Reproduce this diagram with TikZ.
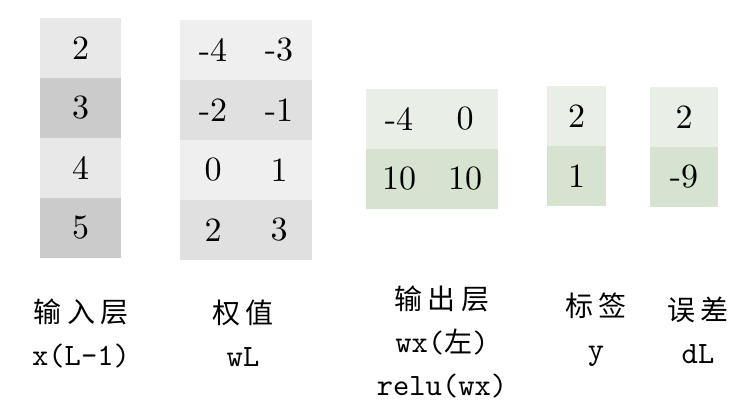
\documentclass[tikz,border=0pt]{standalone}
\usepackage{fontspec}
\newfontfamily\cjk[LetterSpace=18]{Noto Sans CJK SC}
\newfontfamily\lat{lmmono10-regular}[Extension=.otf]
\newfontfamily\numf{lmroman10-regular}[Extension=.otf]
\definecolor{gA}{HTML}{E8E8E8}
\definecolor{gB}{HTML}{CBCBCB}
\definecolor{wA}{HTML}{EFEFEF}
\definecolor{wB}{HTML}{E0E0E0}
\definecolor{vA}{HTML}{E9EFE7}
\definecolor{vB}{HTML}{D6E3D0}
\tikzset{
  cell/.style={inner sep=0pt, minimum height=60pt, font=\fontsize{34}{40}\selectfont\numf},
  lab/.style={inner sep=0pt, align=center, font=\fontsize{31}{43}\selectfont\lat}
}
\newcommand{\zh}[1]{{\fontsize{28}{43}\selectfont\cjk #1}}
\begin{document}
\begin{tikzpicture}[x=1pt,y=-1pt]
\useasboundingbox (0,0) rectangle (738,411);
% input column
\node[cell, minimum width=81pt, fill=gA] (x1) at (80.5,48) {2};
\node[cell, minimum width=81pt, fill=gB] (x2) at (80.5,108) {3};
\node[cell, minimum width=81pt, fill=gA] (x3) at (80.5,168) {4};
\node[cell, minimum width=81pt, fill=gB] (x4) at (80.5,228) {5};
% weights
\node[cell, minimum width=66pt, fill=wA] (w11) at (213,50) {-4};
\node[cell, minimum width=66pt, fill=wA] (w12) at (279,50) {-3};
\node[cell, minimum width=66pt, fill=wB] (w21) at (213,110) {-2};
\node[cell, minimum width=66pt, fill=wB] (w22) at (279,110) {-1};
\node[cell, minimum width=66pt, fill=wA] (w31) at (213,170) {0};
\node[cell, minimum width=66pt, fill=wA] (w32) at (279,170) {1};
\node[cell, minimum width=66pt, fill=wB] (w41) at (213,230) {2};
\node[cell, minimum width=66pt, fill=wB] (w42) at (279,230) {3};
% output
\node[cell, minimum width=66pt, fill=vA] (o11) at (399,119) {-4};
\node[cell, minimum width=66pt, fill=vA] (o12) at (465,119) {0};
\node[cell, minimum width=66pt, fill=vB] (o21) at (399,179) {10};
\node[cell, minimum width=66pt, fill=vB] (o22) at (465,179) {10};
% label y
\node[cell, minimum width=59pt, fill=vA] (y1) at (576.5,116) {2};
\node[cell, minimum width=59pt, fill=vB] (y2) at (576.5,176) {1};
% error
\node[cell, minimum width=68pt, fill=vA] (d1) at (684,117) {2};
\node[cell, minimum width=68pt, fill=vB] (d2) at (684,177) {-9};
% captions
\node[lab] (lx) at (81,333) {\zh{输入层}\\x(L-1)};
\node[lab] (lw) at (243,333) {\zh{权值}\\wL};
\node[lab] (lo) at (442,342) {\zh{输出层}\\wx({\fontsize{28}{43}\selectfont\cjk\addfontfeature{LetterSpace=0}左})\\relu(wx)};
\node[lab] (ly) at (596,330) {\zh{标签}\\y};
\node[lab] (ld) at (698,330) {\zh{误差}\\dL};
\end{tikzpicture}
\end{document}
